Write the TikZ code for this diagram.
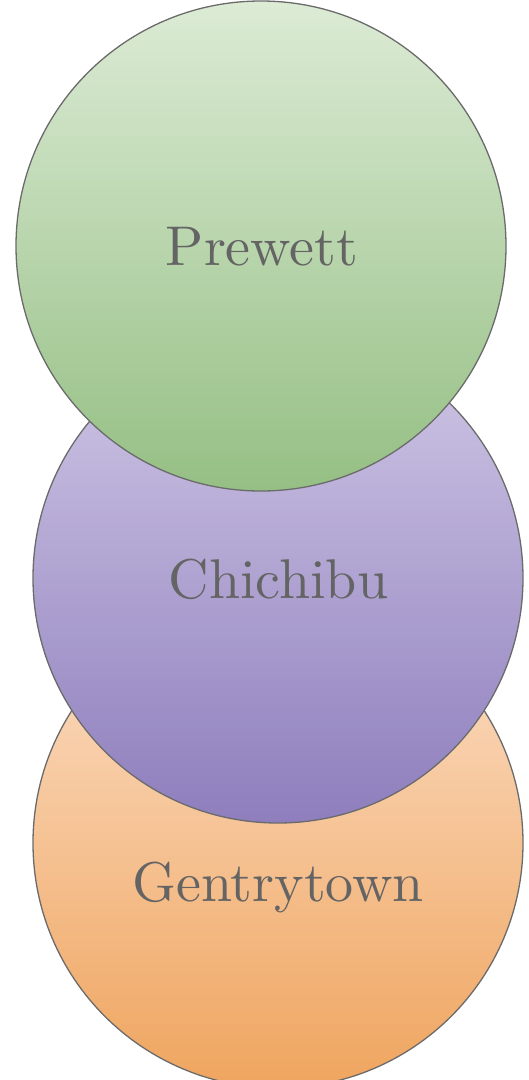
\documentclass[tikz,border=0pt]{standalone}
\usepackage{fontspec}
\newfontfamily\lmten{lmroman10-regular.otf}
\definecolor{edge}{HTML}{6B6B6B}
\definecolor{txt}{HTML}{646464}
\definecolor{gtop}{HTML}{DCEBD5}
\definecolor{gbot}{HTML}{95BF84}
\definecolor{ptop}{HTML}{D1C8E6}
\definecolor{pbot}{HTML}{8E7EBD}
\definecolor{otop}{HTML}{FCDFC8}
\definecolor{obot}{HTML}{EFA55F}
\begin{document}
\begin{tikzpicture}[x=1pt,y=-1pt,
  venn/.style={circle, draw=edge, line width=1.3pt, minimum size=490pt, inner sep=0pt},
  lbl/.style={anchor=base, text=txt, font=\lmten\fontsize{56}{60}\selectfont, inner sep=0pt}]
\useasboundingbox (0,0) rectangle (529,1080);
\clip (0,0) rectangle (529,1080);
\node[venn, top color=otop, bottom color=obot] (gc) at (278,843) {};
\node[venn, top color=ptop, bottom color=pbot] (cc) at (278,578) {};
\node[venn, top color=gtop, bottom color=gbot] (pc) at (261,246) {};
\node[lbl] (pt) at (262,265) {Prewett};
\node[lbl] (ct) at (278.5,598) {Chichibu};
\node[lbl] (gt) at (278,901) {Gentrytown};
\end{tikzpicture}
\end{document}
